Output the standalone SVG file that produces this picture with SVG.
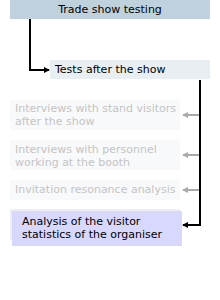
<svg xmlns="http://www.w3.org/2000/svg" width="220" height="300" viewBox="0 0 220 300">
<defs>
<style>
text{font-family:"DejaVu Sans",Verdana,sans-serif;font-size:11px}
.dark{fill:#000}
.faint{fill:#c4c4c4}
.main{stroke:#000;stroke-width:2;fill:none}
.sub{stroke:#aaaaaa;stroke-width:2;fill:none}
</style>
<marker id="ah" markerWidth="6" markerHeight="6" refX="5" refY="3" orient="auto" markerUnits="userSpaceOnUse"><path d="M0,0 L6,3 L0,6 z" fill="#000"/></marker>
<marker id="ag" markerWidth="6" markerHeight="6" refX="5" refY="3" orient="auto" markerUnits="userSpaceOnUse"><path d="M0,0 L6,3 L0,6 z" fill="#aaaaaa"/></marker>
</defs>
<rect width="220" height="300" fill="#fff"/>
<g id="connectors">
<path class="main" d="M30,19 V70 H49" marker-end="url(#ah)"/>
<path class="main" d="M200,80 V225 H183" marker-end="url(#ah)"/>
<path class="sub" d="M199,115 H183" marker-end="url(#ag)"/>
<path class="sub" d="M199,155 H183" marker-end="url(#ag)"/>
<path class="sub" d="M199,190 H183" marker-end="url(#ag)"/>
</g>
<g id="trade-show-testing">
<rect x="10" y="0" width="200" height="19" fill="#bfd1dc"/>
<text class="dark" x="110" y="13" text-anchor="middle">Trade show testing</text>
</g>
<g id="tests-after-the-show">
<rect x="50" y="60" width="160" height="19" fill="#e8eef2"/>
<text class="dark" x="55" y="73">Tests after the show</text>
</g>
<g id="interviews-visitors">
<rect x="10" y="100" width="170" height="30" fill="#f8f9fa"/>
<text class="faint" x="15" y="112">Interviews with stand visitors</text>
<text class="faint" x="15" y="125">after the show</text>
</g>
<g id="interviews-personnel">
<rect x="10" y="140" width="170" height="30" fill="#f8f9fa"/>
<text class="faint" x="15" y="153">Interviews with personnel</text>
<text class="faint" x="15" y="166">working at the booth</text>
</g>
<g id="invitation-resonance">
<rect x="10" y="180" width="170" height="20" fill="#f8f9fa"/>
<text class="faint" x="15" y="193">Invitation resonance analysis</text>
</g>
<g id="visitor-statistics">
<rect x="10" y="209" width="170" height="31" fill="#eeeef2"/>
<rect x="12" y="211" width="170" height="35" fill="#d8d8ff"/>
<text class="dark" x="22" y="225">Analysis of the visitor</text>
<text class="dark" x="22" y="238">statistics of the organiser</text>
</g>
</svg>
